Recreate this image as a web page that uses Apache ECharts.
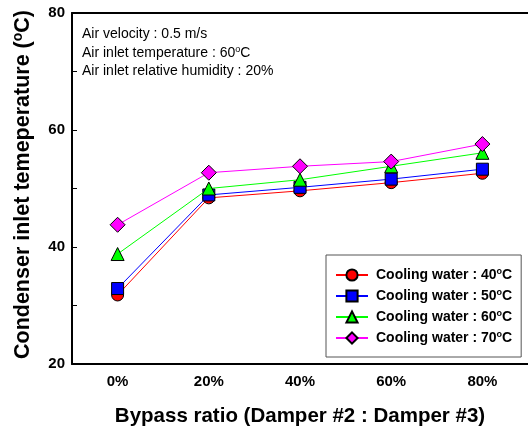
<!DOCTYPE html>
<html>
<head>
<meta charset="utf-8">
<script src="https://cdn.jsdelivr.net/npm/echarts@6/dist/echarts.min.js"></script>
<style>
  html, body { margin: 0; padding: 0; background: #fff; }
  #main { width: 528px; height: 432px; }
</style>
</head>
<body>
<div id="main"></div>
<script>
var categories = ['0%', '20%', '40%', '60%', '80%'];
var cw40 = [31.8, 48.4, 49.6, 51.0, 52.6];
var cw50 = [32.9, 48.9, 50.2, 51.6, 53.3];
var cw60 = [38.8, 50.0, 51.5, 53.8, 56.1];
var cw70 = [43.8, 52.7, 53.8, 54.6, 57.6];
var waterTemps = ['40', '50', '60', '70'];
var seriesColors = ['#ff0000', '#0000ff', '#00ff00', '#ff00ff'];
var seriesSymbols = ['circle', 'rect', 'triangle', 'diamond'];
var seriesSizes = [12, 12, 13, 15];

var FONT = '"Liberation Sans", Arial, sans-serif';
var allData = [cw40, cw50, cw60, cw70];

var series = [];
for (var i = 0; i < allData.length; i++) {
    series.push({
        name: 'Cooling water : ' + waterTemps[i] + '°C',
        type: 'line',
        data: allData[i],
        symbol: seriesSymbols[i],
        symbolSize: seriesSizes[i],
        lineStyle: { color: seriesColors[i], width: 1 },
        itemStyle: { color: seriesColors[i], borderColor: '#000', borderWidth: 1 },
        z: 2 + i
    });
}

var chart = echarts.init(document.getElementById('main'));

chart.setOption({
    animation: false,
    backgroundColor: '#fff',
    textStyle: { fontFamily: FONT },
    title: {
        text: '{a|Air velocity : 0.5 m/s}\n{a|Air inlet temperature : 60}{s|o}{a|C}\n{a|Air inlet relative humidity : 20%}',
        left: 77,
        top: 20,
        textStyle: {
            rich: {
                a: { fontSize: 14, fontWeight: 'normal', fontFamily: FONT, color: '#000', lineHeight: 18.5 },
                s: { fontSize: 9, fontWeight: 'normal', fontFamily: FONT, color: '#000', lineHeight: 18.5, padding: [0, 0, 7, 0] }
            }
        }
    },
    legend: {
        orient: 'vertical',
        left: 326,
        top: 255,
        padding: [12, 9, 12, 9],
        itemGap: 6,
        itemWidth: 32,
        itemHeight: 14,
        backgroundColor: '#fff',
        borderColor: '#555',
        borderWidth: 1,
        borderRadius: 0,
        formatter: function (name) {
            var t = name.replace('°C', '');
            return '{b|' + t + '}{s|o}{a|C}';
        },
        textStyle: {
            rich: {
                b: { fontSize: 14, fontWeight: 'bold', fontFamily: FONT, color: '#000', padding: [0, 0, 0, 3] },
                a: { fontSize: 14, fontWeight: 'bold', fontFamily: FONT, color: '#000' },
                s: { fontSize: 9, fontWeight: 'bold', fontFamily: FONT, color: '#000', padding: [0, 0, 7, 0] }
            }
        },
        data: series.map(function (s) { return s.name; })
    },
    grid: { left: 72, right: 0, top: 13, bottom: 66 },
    xAxis: [{
        type: 'category',
        data: categories,
        boundaryGap: true,
        axisLine: { lineStyle: { color: '#000', width: 2 } },
        axisTick: { inside: true, alignWithLabel: true, length: 5, lineStyle: { color: '#000', width: 1 } },
        axisLabel: { margin: 10, fontSize: 15, fontWeight: 'bold', color: '#000', fontFamily: FONT },
        name: 'Bypass ratio (Damper #2 : Damper #3)',
        nameLocation: 'middle',
        nameGap: 42,
        nameTextStyle: { fontSize: 20.5, fontWeight: 'bold', color: '#000', fontFamily: FONT }
    }, {
        type: 'category',
        position: 'top',
        data: categories,
        axisLine: { lineStyle: { color: '#000', width: 2 } },
        axisTick: { show: false },
        axisLabel: { show: false }
    }],
    yAxis: {
        type: 'value',
        min: 20,
        max: 80,
        interval: 10,
        axisLine: { show: true, lineStyle: { color: '#000', width: 2 } },
        axisTick: { show: true, inside: true, length: 5, lineStyle: { color: '#000', width: 1 } },
        splitLine: { show: false },
        axisLabel: {
            margin: 7, fontSize: 15, fontWeight: 'bold', color: '#000', fontFamily: FONT,
            formatter: function (v) { return v % 20 === 0 ? String(v) : ''; }
        },
        name: '{a|Condenser inlet temeperature (}{s|o}{a|C)}',
        nameLocation: 'middle',
        nameRotate: 90,
        nameGap: 37,
        nameTextStyle: {
            padding: [0, 0, 0, 8],
            rich: {
                a: { fontSize: 21.5, fontWeight: 'bold', color: '#000', fontFamily: FONT },
                s: { fontSize: 14, fontWeight: 'bold', color: '#000', fontFamily: FONT, padding: [0, 0, 10, 0] }
            }
        }
    },
    series: series
});
</script>
</body>
</html>
